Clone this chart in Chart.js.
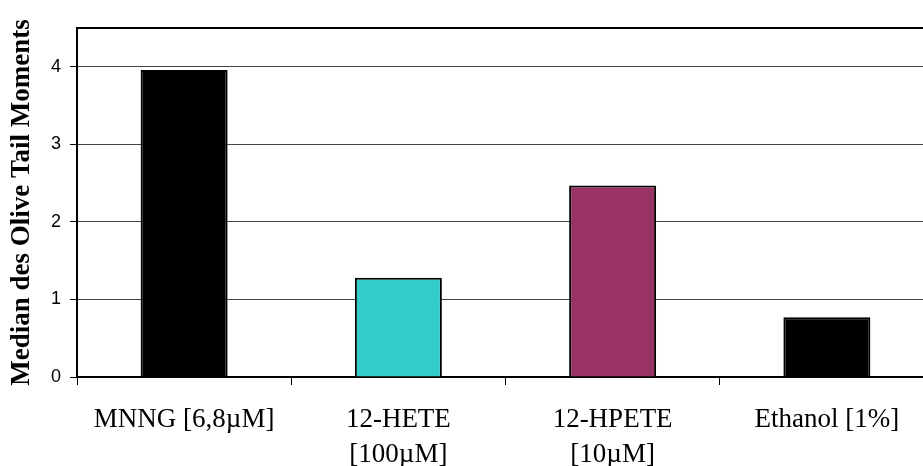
<!DOCTYPE html>
<html>
<head>
<meta charset="utf-8">
<script src="https://cdn.jsdelivr.net/npm/chart.js@4"></script>
<style>
  html, body { margin: 0; padding: 0; background: #fff; overflow: hidden; }
  #wrap { width: 923px; height: 466px; overflow: hidden; }
  #box { width: 936px; height: 466px; }
</style>
</head>
<body>
<div id="wrap"><div id="box"><canvas id="myChart"></canvas></div></div>
<script>
// data
let categories = [['MNNG [6,8\u00b5M]'], ['12-HETE', '[100\u00b5M]'], ['12-HPETE', '[10\u00b5M]'], ['Ethanol [1%]']];
let medians = [3.96, 1.28, 2.47, 0.77];
let barColors = ['#000000', '#33CCCC', '#993366', '#000000'];
let yTicks = [0, 1, 2, 3, 4];
let yMax = 4.5;
let yTitle = 'Median des Olive Tail Moments';

// top border of the plot area
let topBorder = {
    id: 'topBorder',
    afterDraw(chart) {
        let a = chart.chartArea;
        let c = chart.ctx;
        c.save();
        c.strokeStyle = '#000';
        c.lineWidth = 2;
        c.beginPath();
        c.moveTo(a.left - 1, a.top);
        c.lineTo(a.right, a.top);
        c.stroke();
        c.restore();
    }
};

window.onload = function(e){
    let ctx = document.getElementById('myChart').getContext('2d');
    new Chart(ctx, {
        type: 'bar',
        data: {
            labels: categories,
            datasets: [{
                data: medians,
                backgroundColor: barColors,
                borderColor: '#000',
                borderWidth: 2,
                categoryPercentage: 1,
                barPercentage: 0.406
            }]
        },
        options: {
            responsive: true,
            maintainAspectRatio: false,
            animation: false,
            devicePixelRatio: 1,
            layout: { padding: { left: 0, right: 2, top: 28, bottom: 0 } },
            plugins: { legend: { display: false }, tooltip: { enabled: false } },
            scales: {
                x: {
                    afterFit: function(s) { s.height = 89; },
                    grid: { drawOnChartArea: false, offset: true, tickLength: 8, tickColor: '#000', lineWidth: 1 },
                    border: { color: '#000', width: 2 },
                    ticks: {
                        color: '#000',
                        padding: 17,
                        maxRotation: 0,
                        autoSkip: false,
                        font: { family: 'Liberation Serif', size: 27, lineHeight: 1.3 }
                    }
                },
                y: {
                    min: 0,
                    max: yMax,
                    afterFit: function(s) { s.width = 77; },
                    afterBuildTicks: function(s) { s.ticks = yTicks.map(v => ({ value: v })); },
                    grid: { color: '#444', lineWidth: 1, tickLength: 7, tickColor: '#000' },
                    border: { color: '#000', width: 2 },
                    ticks: {
                        color: '#000',
                        padding: 9,
                        font: { family: 'Liberation Sans', size: 18 }
                    },
                    title: {
                        display: true,
                        text: yTitle,
                        color: '#000',
                        padding: { top: 6, bottom: 0 },
                        font: { family: 'Liberation Serif', size: 27, weight: 'bold' }
                    }
                }
            }
        },
        plugins: [topBorder]
    });
}
</script>
</body>
</html>
